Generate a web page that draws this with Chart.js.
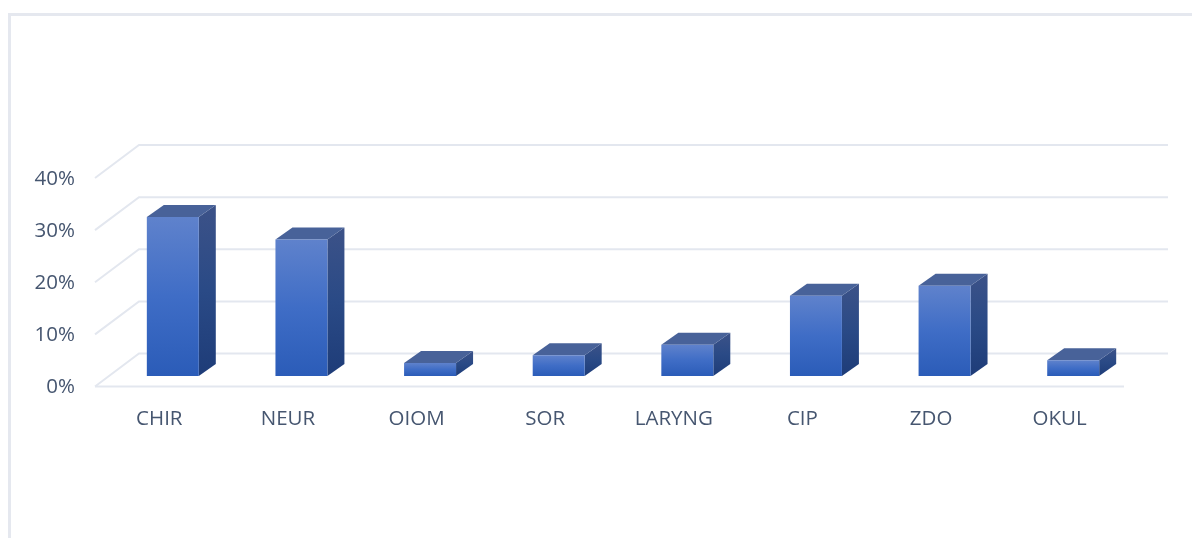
<!DOCTYPE html>
<html>
<head>
<meta charset="utf-8">
<script src="https://cdn.jsdelivr.net/npm/chart.js@4/dist/chart.umd.min.js"></script>
<style>
html,body{margin:0;padding:0;background:#fff;width:1192px;height:538px;overflow:hidden}
#frame{position:absolute;left:8px;top:13px;right:-5px;bottom:-5px;border-left:3px solid #e5e8ef;border-top:3px solid #e5e8ef}
#wrap{position:absolute;left:0;top:0;width:1192px;height:538px;filter:blur(0.6px)}
</style>
</head>
<body>
<div id="frame"></div>
<div id="wrap"><canvas id="c" width="1192" height="538"></canvas></div>
<script>
const categories = ["CHIR","NEUR","OIOM","SOR","LARYNG","CIP","ZDO","OKUL"];
const percentValues = [30.5,26.2,2.5,4,6,15.4,17.3,3];
const tickValues = [0,10,20,30,40];

const textColor = "#465670";
const gridColor = "#e3e7ef";
const fontFamily = "'Open Sans', sans-serif";

// projected depth of the wall/floor and of each bar
const wallDepth = {dx:44, dy:-33};
const barOffset = {dx:13.5, dy:-10.5};
const barDepth = {dx:17, dy:-12};

function vGradient(ctx, y0, y1, stops){
  const g = ctx.createLinearGradient(0,y0,0,y1);
  stops.forEach((c,i)=>g.addColorStop(i/(stops.length-1),c));
  return g;
}

const box3d = {
  id:"box3d",
  afterLayout(chart){
    const s = chart.scales.y;
    if(s._shifted) return;
    s._shifted = true;
    const draw = s.drawLabels.bind(s);
    s.drawLabels = function(area){
      chart.ctx.save();
      chart.ctx.translate(0,1);
      draw(area);
      chart.ctx.restore();
    };
  },
  beforeDatasetsDraw(chart){
    const {ctx, scales:{x,y}} = chart;
    const L = x.left, R = x.right;
    ctx.save();
    ctx.strokeStyle = gridColor;
    ctx.lineWidth = 2;
    tickValues.forEach(v=>{
      const py = y.getPixelForValue(v);
      ctx.beginPath();
      ctx.moveTo(L,py);
      ctx.lineTo(L+wallDepth.dx,py+wallDepth.dy);
      ctx.lineTo(R+wallDepth.dx,py+wallDepth.dy);
      ctx.stroke();
    });
    const y0 = y.getPixelForValue(0);
    ctx.beginPath();ctx.moveTo(L,y0);ctx.lineTo(R,y0);ctx.stroke();
    ctx.restore();

    ctx.save();
    ctx.translate(barOffset.dx,barOffset.dy);
    chart.getDatasetMeta(0).data.forEach(el=>{
      const x0 = el.x-el.width/2, x1 = el.x+el.width/2, t = el.y, b = el.base;
      const d = barDepth;
      ctx.fillStyle = vGradient(ctx,t+d.dy,b,["#3c5288","#2a4a86","#1e3c78"]);
      ctx.beginPath();
      ctx.moveTo(x1,t);ctx.lineTo(x1+d.dx,t+d.dy);ctx.lineTo(x1+d.dx,b+d.dy);ctx.lineTo(x1,b);
      ctx.closePath();ctx.fill();
      ctx.fillStyle = "#486299";
      ctx.beginPath();
      ctx.moveTo(x0,t);ctx.lineTo(x0+d.dx,t+d.dy);ctx.lineTo(x1+d.dx,t+d.dy);ctx.lineTo(x1,t);
      ctx.closePath();ctx.fill();
    });
  },
  afterDatasetsDraw(chart){ chart.ctx.restore(); }
};

new Chart(document.getElementById("c"),{
  type:"bar",
  data:{labels:categories,datasets:[{
    data:percentValues,
    categoryPercentage:1,
    barPercentage:0.404,
    borderWidth:0,
    backgroundColor(c){
      const s = c.chart.scales.y;
      const v = percentValues[c.dataIndex];
      if(!s || v===undefined) return "#3f6cc4";
      const top = s.getPixelForValue(v), bot = s.getPixelForValue(0);
      if(!Number.isFinite(top) || !Number.isFinite(bot)) return "#3f6cc4";
      return vGradient(c.chart.ctx,top,bot,["#5f82cc","#3f6dc6","#2b5cb8"]);
    }
  }]},
  options:{
    responsive:false,animation:false,
    layout:{padding:{left:0,right:68,top:178,bottom:81.5}},
    plugins:{legend:{display:false},tooltip:{enabled:false},title:{display:false}},
    scales:{
      x:{
        grid:{display:false},border:{display:false},
        afterFit(s){s.height=70;},
        ticks:{color:textColor,font:{family:fontFamily,size:20.5},padding:12,maxRotation:0,autoSkip:false}
      },
      y:{
        min:0,max:40,
        grid:{display:false},border:{display:false},
        afterFit(s){s.width=95;},
        afterBuildTicks(s){s.ticks=tickValues.map(v=>({value:v}));},
        ticks:{color:textColor,font:{family:fontFamily,size:20.5},padding:12,callback:v=>v+"%"}
      }
    }
  },
  plugins:[box3d]
});
</script>
</body>
</html>
